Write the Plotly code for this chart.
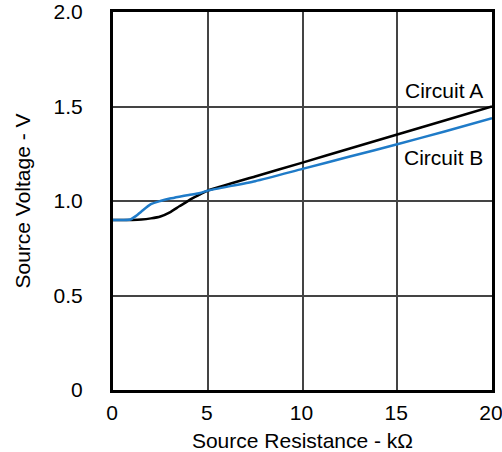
import plotly.graph_objects as go

# Circuit A (black)
a_x = [0, 0.5, 1.0, 1.5, 2.0, 2.5, 3.0, 3.5, 3.8, 4.2, 4.6, 5.0, 7.5, 10, 12.5, 15, 17.5, 20]
a_y = [0.90, 0.90, 0.90, 0.902, 0.908, 0.918, 0.94, 0.972, 0.99, 1.015, 1.035, 1.055, 1.13, 1.203, 1.278, 1.352, 1.426, 1.50]

# Circuit B (blue)
b_x = [0, 0.5, 0.9, 1.2, 1.5, 2.0, 2.5, 3.0, 3.5, 4.0, 4.6, 5.0, 7.5, 10, 12.5, 15, 17.5, 20]
b_y = [0.90, 0.90, 0.902, 0.92, 0.945, 0.983, 1.0, 1.013, 1.023, 1.032, 1.042, 1.055, 1.105, 1.17, 1.235, 1.30, 1.368, 1.438]

x_ticks = [0, 5, 10, 15, 20]
x_ticktext = ["0", "5", "10", "15", "20"]
y_ticks = [0, 0.5, 1.0, 1.5, 2.0]
y_ticktext = ["0", "0.5", "1.0", "1.5", "2.0"]

font_family = "Liberation Sans, Arial, sans-serif"

fig = go.Figure()
fig.add_trace(go.Scatter(x=a_x, y=a_y, mode="lines", line=dict(color="black", width=2.5, shape="spline", smoothing=0.6), name="Circuit A", showlegend=False))
fig.add_trace(go.Scatter(x=b_x, y=b_y, mode="lines", line=dict(color="#1f7bc8", width=2.5, shape="spline", smoothing=0.6), name="Circuit B", showlegend=False))

fig.add_annotation(x=17.46, y=1.587, text="Circuit A", showarrow=False, font=dict(size=21, color="black", family=font_family))
fig.add_annotation(x=17.46, y=1.228, text="Circuit B", showarrow=False, font=dict(size=21, color="black", family=font_family))

fig.update_layout(
    width=502, height=452,
    margin=dict(l=113, r=10, t=12, b=62),
    plot_bgcolor="white", paper_bgcolor="white",
    font=dict(family=font_family, size=21, color="black"),
    xaxis=dict(range=[0, 20], tickvals=x_ticks, ticktext=x_ticktext,
               showgrid=True, gridcolor="#444444", gridwidth=1.5,
               showline=True, linecolor="black", linewidth=3, mirror=True,
               zeroline=False, ticks="outside", ticklen=2, tickcolor="rgba(0,0,0,0)",
               automargin=False, ticklabeloverflow="allow", ticklabelshift=-1,
               title=dict(text="Source Resistance - kΩ", font=dict(size=21), standoff=16)),
    yaxis=dict(range=[0, 2.0], tickvals=y_ticks, ticktext=y_ticktext,
               showgrid=True, gridcolor="#444444", gridwidth=1.5,
               showline=True, linecolor="black", linewidth=3, mirror=True,
               zeroline=False, ticks="outside", ticklen=23, tickcolor="rgba(0,0,0,0)",
               automargin=False, ticklabeloverflow="allow",
               title=dict(text="Source Voltage - V", font=dict(size=21), standoff=18)),
)

fig.write_html("out.html")
